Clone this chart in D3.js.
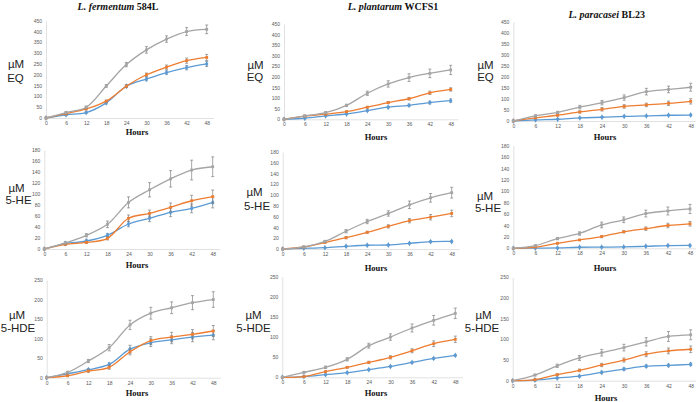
<!DOCTYPE html>
<html><head><meta charset="utf-8">
<script src="https://cdn.jsdelivr.net/npm/d3@7"></script>
<style>
html,body{margin:0;padding:0;background:#fff;}
svg{display:block;}
</style></head>
<body>
<svg id="c" width="696" height="402"></svg>
<script>
// ---------- DATA ----------
const hours = [0, 6, 12, 18, 24, 30, 36, 42, 48];
const speciesNames = ["L. fermentum", "L. plantarum", "L. paracasei"];
const strainCodes = ["584L", "WCFS1", "BL23"];
const compounds = ["EQ", "5-HE", "5-HDE"];
const yMaxByCompound = [450, 180, 250];
const yStepByCompound = [50, 20, 50];

// EQ
const eqFermentumBlue   = [0, 15, 25, 70, 147, 180, 210, 233, 250];
const eqFermentumBlueErr= [0, 3, 4, 5, 6, 8, 8, 10, 12];
const eqFermentumOrange = [0, 20, 42, 78, 147, 200, 235, 265, 280];
const eqFermentumOrangeErr = [0, 4, 4, 5, 6, 8, 10, 12, 14];
const eqFermentumGray   = [0, 25, 50, 148, 247, 315, 365, 400, 410];
const eqFermentumGrayErr= [0, 5, 5, 6, 10, 15, 15, 18, 20];

const eqPlantarumBlue   = [0, 5, 16, 25, 41, 57, 66, 79, 88];
const eqPlantarumBlueErr= [0, 2, 2, 3, 3, 4, 5, 6, 8];
const eqPlantarumOrange = [0, 15, 24, 36, 57, 79, 97, 125, 141];
const eqPlantarumOrangeErr = [0, 2, 3, 3, 4, 5, 6, 8, 8];
const eqPlantarumGray   = [0, 16, 31, 66, 123, 167, 197, 217, 233];
const eqPlantarumGrayErr= [0, 4, 5, 5, 10, 15, 18, 20, 22];

const eqParacaseiBlue   = [0, 5, 8, 14, 17, 21, 23, 26, 27];
const eqParacaseiBlueErr= [0, 1, 1, 2, 2, 2, 2, 2, 3];
const eqParacaseiOrange = [0, 14, 26, 41, 53, 66, 73, 80, 89];
const eqParacaseiOrangeErr = [0, 3, 4, 5, 8, 8, 8, 10, 12];
const eqParacaseiGray   = [0, 23, 39, 63, 83, 106, 133, 143, 153];
const eqParacaseiGrayErr= [0, 5, 5, 8, 10, 12, 15, 15, 18];

// 5-HE
const heFermentumBlue   = [0, 10, 14.6, 25, 45.6, 56, 67, 74, 85];
const heFermentumBlueErr= [0, 2, 3, 3, 5, 6, 8, 8, 10];
const heFermentumOrange = [0, 8.5, 12, 19.5, 56, 65, 76, 88, 95.5];
const heFermentumOrangeErr = [0, 2, 2, 3, 6, 6, 8, 10, 12];
const heFermentumGray   = [0, 11, 25, 45, 85, 108, 128, 144, 150];
const heFermentumGrayErr= [0, 2, 3, 6, 10, 13, 15, 18, 18];

const hePlantarumBlue   = [0, 1.2, 2.5, 5, 7, 7.4, 10.5, 13.6, 14];
const hePlantarumBlueErr= [0, 0.5, 0.5, 1, 1, 1, 1, 1.5, 1.5];
const hePlantarumOrange = [0, 3.7, 12, 21, 31, 42, 52.5, 59, 66];
const hePlantarumOrangeErr = [0, 1, 1, 2, 2, 3, 4, 5, 6];
const hePlantarumGray   = [0, 4, 14, 33, 51, 66, 82, 95, 104.5];
const hePlantarumGrayErr= [0, 1, 2, 3, 4, 5, 7, 8, 10];

const heParacaseiBlue   = [0, 0.3, 0.6, 1.8, 2, 2.5, 3.5, 4.7, 5];
const heParacaseiBlueErr= [0, 0.3, 0.3, 0.5, 0.5, 0.5, 0.8, 0.8, 1];
const heParacaseiOrange = [0, 2.3, 8.8, 14.6, 20.5, 29, 34.5, 40, 43];
const heParacaseiOrangeErr = [0, 1, 1, 1, 2, 2, 3, 4, 4];
const heParacaseiGray   = [0, 4.7, 17, 26, 41, 50, 61, 65.5, 69];
const heParacaseiGrayErr= [0, 1, 2, 3, 5, 5, 6, 7, 8];

// 5-HDE
const hdeFermentumBlue   = [0, 10, 20.5, 34, 73, 89.6, 97, 104, 109];
const hdeFermentumBlueErr= [0, 2, 3, 4, 10, 10, 10, 12, 12];
const hdeFermentumOrange = [0, 5, 17, 26.5, 66.5, 95, 104, 111, 119.5];
const hdeFermentumOrangeErr = [0, 2, 3, 5, 8, 10, 12, 12, 14];
const hdeFermentumGray   = [0, 13.6, 42.7, 76.8, 135, 165, 179, 192, 200];
const hdeFermentumGrayErr= [0, 3, 4, 8, 12, 15, 15, 18, 20];

const hdePlantarumBlue   = [0, 1.7, 6.6, 11.6, 19, 27, 37, 47, 54.6];
const hdePlantarumBlueErr= [0, 1, 1, 1, 2, 2, 2, 2, 2];
const hdePlantarumOrange = [0, 1.7, 14, 24.8, 37, 49.7, 66, 83.6, 94.4];
const hdePlantarumOrangeErr = [0, 1, 2, 2, 3, 4, 5, 7, 8];
const hdePlantarumGray   = [0, 12.4, 24.8, 44.7, 78.6, 100, 122.5, 141.6, 159];
const hdePlantarumGrayErr= [0, 2, 3, 4, 6, 8, 10, 12, 13];

const hdeParacaseiBlue   = [0, 1.6, 6.5, 11, 20, 28, 35, 37, 39.5];
const hdeParacaseiBlueErr= [0, 2, 2, 2, 3, 3, 3, 3, 3];
const hdeParacaseiOrange = [0, 2.4, 14.5, 25, 38, 50, 64, 72, 76];
const hdeParacaseiOrangeErr = [0, 1, 2, 3, 4, 5, 6, 7, 8];
const hdeParacaseiGray   = [0, 13.7, 36, 55, 67.7, 80, 94, 107, 111];
const hdeParacaseiGrayErr= [0, 2, 4, 6, 8, 8, 10, 12, 12];

// panel order: row = compound, col = species
const panelSeries = [
  [[eqFermentumBlue, eqFermentumBlueErr, eqFermentumOrange, eqFermentumOrangeErr, eqFermentumGray, eqFermentumGrayErr],
   [eqPlantarumBlue, eqPlantarumBlueErr, eqPlantarumOrange, eqPlantarumOrangeErr, eqPlantarumGray, eqPlantarumGrayErr],
   [eqParacaseiBlue, eqParacaseiBlueErr, eqParacaseiOrange, eqParacaseiOrangeErr, eqParacaseiGray, eqParacaseiGrayErr]],
  [[heFermentumBlue, heFermentumBlueErr, heFermentumOrange, heFermentumOrangeErr, heFermentumGray, heFermentumGrayErr],
   [hePlantarumBlue, hePlantarumBlueErr, hePlantarumOrange, hePlantarumOrangeErr, hePlantarumGray, hePlantarumGrayErr],
   [heParacaseiBlue, heParacaseiBlueErr, heParacaseiOrange, heParacaseiOrangeErr, heParacaseiGray, heParacaseiGrayErr]],
  [[hdeFermentumBlue, hdeFermentumBlueErr, hdeFermentumOrange, hdeFermentumOrangeErr, hdeFermentumGray, hdeFermentumGrayErr],
   [hdePlantarumBlue, hdePlantarumBlueErr, hdePlantarumOrange, hdePlantarumOrangeErr, hdePlantarumGray, hdePlantarumGrayErr],
   [hdeParacaseiBlue, hdeParacaseiBlueErr, hdeParacaseiOrange, hdeParacaseiOrangeErr, hdeParacaseiGray, hdeParacaseiGrayErr]]
];

// ---------- LAYOUT (pixel geometry, kept separate from data) ----------
// [x at 0h, x at 48h, y at 0, y at max]
const layout = [
  [[46, 206.7, 118, 20.7], [284, 450.7, 119.3, 24], [513.3, 690.7, 121, 21.7]],
  [[44.3, 212.7, 249, 150.3], [282.7, 451.7, 249, 152], [513.3, 690, 248.3, 145.7]],
  [[46.7, 213.3, 377.7, 280], [282.3, 455.3, 377.3, 276.7], [512.7, 690.7, 380.7, 277.3]]
];
const titlePos = [[118, 9.5], [393, 9.5], [606.7, 17.5]];
const hoursPos = [
  [[137, 134.5], [376, 139.5], [605, 140]],
  [[137, 267.5], [376, 270.5], [605, 270.5]],
  [[137, 396], [376, 396], [606, 400.5]]
];
const ylabPos = [
  [[16, 64, 15.5, 78], [255.5, 65, 255, 77], [485.5, 65, 485.5, 77]],
  [[16.5, 188, 18.5, 200], [254.5, 192, 257, 206], [485, 196, 488, 208]],
  [[17, 315, 18, 328], [253.5, 315, 253.5, 328], [483.5, 315, 482, 328]]
];
const colors = ["#5b9bd5", "#ed7d31", "#a5a5a5"];
const symbols = [d3.symbolDiamond, d3.symbolSquare, d3.symbolSquare];

const svg = d3.select("#c");

for (let r = 0; r < 3; r++) {
  for (let c = 0; c < 3; c++) {
    const [x0, x48, y0, yT] = layout[r][c];
    const xEnd = x0 + (x48 - x0) * 50 / 48;
    const x = d3.scaleLinear().domain([0, 50]).range([x0, xEnd]);
    const y = d3.scaleLinear().domain([0, yMaxByCompound[r]]).range([y0, yT]);
    const g = svg.append("g");

    const yTicks = d3.range(0, yMaxByCompound[r] + 0.001, yStepByCompound[r]);
    const ya = g.append("g").attr("transform", `translate(${x0},0)`)
      .call(d3.axisLeft(y).tickValues(yTicks).tickSize(0).tickPadding(4));
    const xa = g.append("g").attr("transform", `translate(0,${y0})`)
      .call(d3.axisBottom(x).tickValues(hours).tickSize(0).tickPadding(3.5));
    [ya, xa].forEach(a => {
      a.select(".domain").attr("stroke", "#d9d9d9").attr("stroke-width", 0.8);
      a.selectAll("text").attr("font-family", "Liberation Sans, Arial, sans-serif")
        .attr("font-size", 5).attr("fill", "#595959");
    });

    const ser = panelSeries[r][c];
    const line = d3.line().x((d, i) => x(hours[i])).y(d => y(d)).curve(d3.curveCatmullRom.alpha(0.5));
    for (let s = 0; s < 3; s++) {
      const vals = ser[s * 2], errs = ser[s * 2 + 1];
      g.append("path").attr("d", line(vals)).attr("fill", "none")
        .attr("stroke", colors[s]).attr("stroke-width", 1.3);
      const eg = g.append("g").attr("stroke", "#7f7f7f").attr("stroke-width", 0.7);
      vals.forEach((v, i) => {
        const e = errs[i];
        if (e <= 0) return;
        const xx = x(hours[i]);
        eg.append("line").attr("x1", xx).attr("x2", xx).attr("y1", y(v - e)).attr("y2", y(v + e));
        eg.append("line").attr("x1", xx - 1.5).attr("x2", xx + 1.5).attr("y1", y(v - e)).attr("y2", y(v - e));
        eg.append("line").attr("x1", xx - 1.5).attr("x2", xx + 1.5).attr("y1", y(v + e)).attr("y2", y(v + e));
      });
      g.append("g").selectAll("path").data(vals).join("path")
        .attr("transform", (d, i) => `translate(${x(hours[i])},${y(d)})`)
        .attr("d", d3.symbol().type(symbols[s]).size(s === 0 ? 10 : 8))
        .attr("fill", colors[s]);
    }

    // y label
    const lp = ylabPos[r][c];
    g.append("text").attr("x", lp[0]).attr("y", lp[1]).attr("dy", "0.35em")
      .attr("text-anchor", "middle").attr("font-family", "Liberation Sans, Arial, sans-serif")
      .attr("font-size", 11.5).attr("fill", "#222").text("µM");
    g.append("text").attr("x", lp[2]).attr("y", lp[3]).attr("dy", "0.35em")
      .attr("text-anchor", "middle").attr("font-family", "Liberation Sans, Arial, sans-serif")
      .attr("font-size", 11.5).attr("fill", "#222").text(compounds[r]);

    // Hours label
    g.append("text").attr("x", hoursPos[r][c][0]).attr("y", hoursPos[r][c][1])
      .attr("text-anchor", "middle").attr("font-family", "Liberation Serif, Times New Roman, serif")
      .attr("font-weight", "bold").attr("font-size", 8.5).attr("fill", "#111").text("Hours");
  }
}

// Titles
for (let c = 0; c < 3; c++) {
  const t = svg.append("text").attr("x", titlePos[c][0]).attr("y", titlePos[c][1])
    .attr("text-anchor", "middle").attr("font-family", "Liberation Serif, Times New Roman, serif")
    .attr("font-weight", "bold").attr("font-size", 10).attr("fill", "#111");
  t.append("tspan").attr("font-style", "italic").text(speciesNames[c]);
  t.append("tspan").text(" " + strainCodes[c]);
}
</script>
</body></html>
